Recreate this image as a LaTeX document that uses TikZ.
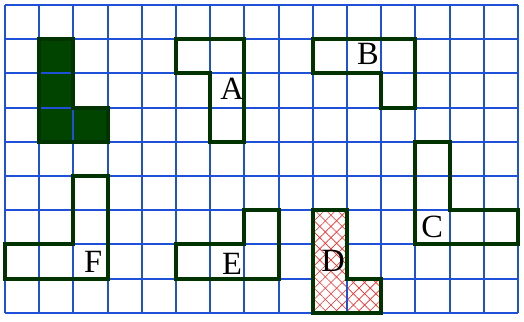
\documentclass[tikz,border=0pt]{standalone}
\usepackage{fontspec}
\setmainfont{Liberation Serif}
\usetikzlibrary{patterns.meta}
\definecolor{gridBlue}{HTML}{1E50D8}
\definecolor{shapeGreen}{HTML}{003300}
\definecolor{fillGreen}{HTML}{004400}
\definecolor{hatchRed}{HTML}{F42A2A}
\tikzset{
  gridline/.style={draw=gridBlue, line width=1.6pt},
  shapeline/.style={draw=shapeGreen, line width=3.2pt, line join=miter},
  letter/.style={font=\fontsize{27}{27}\selectfont, inner sep=0pt},
  hatch/.style={pattern={Lines[angle=#1, distance=6.6pt, line width=0.5pt]},
    pattern color=hatchRed}
}
\newcommand{\shapeD}{(9,6) -- (10,6) -- (10,8) -- (11,8) -- (11,9) -- (9,9) -- cycle}

\begin{document}
\begin{tikzpicture}[y=-1cm]
    \useasboundingbox (-0.146,-0.146) rectangle (15.175,9.263);
    % ---- solid L, under the grid ----
    \fill[fillGreen] (1,1) -- (2,1) -- (2,3) -- (3,3) -- (3,4) -- (1,4) -- cycle;
    % ---- grid ----
    \draw[gridline] (0,0) grid (15,9);
    % ---- hatched shape D ----
    \fill[white] (9,6) -- (10,6) -- (10,8) -- (11,8) -- (11,9) -- (9,9) -- cycle;
    \fill[hatch=45] (9,6) -- (10,6) -- (10,8) -- (11,8) -- (11,9) -- (9,9) -- cycle;
    \fill[hatch=-45] (9,6) -- (10,6) -- (10,8) -- (11,8) -- (11,9) -- (9,9) -- cycle;
    \draw[gridline] (10,8) -- (10,9);
    % ---- outlines ----
    \draw[shapeline] (1,1) -- (2,1) -- (2,3) -- (3,3) -- (3,4) -- (1,4) -- cycle;
    \draw[shapeline] (5,1) -- (7,1) -- (7,4) -- (6,4) -- (6,2) -- (5,2) -- cycle;
    \draw[shapeline] (9,1) -- (12,1) -- (12,3) -- (11,3) -- (11,2) -- (9,2) -- cycle;
    \draw[shapeline] (12,4) -- (13,4) -- (13,6) -- (15,6) -- (15,7) -- (12,7) -- cycle;
    \draw[shapeline] (9,6) -- (10,6) -- (10,8) -- (11,8) -- (11,9) -- (9,9) -- cycle;
    \draw[shapeline] (5,7) -- (7,7) -- (7,6) -- (8,6) -- (8,8) -- (5,8) -- cycle;
    \draw[shapeline] (2,5) -- (3,5) -- (3,8) -- (0,8) -- (0,7) -- (2,7) -- cycle;
    % ---- labels ----
    \node[letter] (labA) at (6.64,2.45) {A};
    \node[letter] (labB) at (10.61,1.44) {B};
    \node[letter] (labC) at (12.49,6.49) {C};
    \node[letter] (labD) at (9.59,7.49) {D};
    \node[letter] (labE) at (6.64,7.57) {E};
    \node[letter] (labF) at (2.58,7.50) {F};
\end{tikzpicture}
\end{document}
